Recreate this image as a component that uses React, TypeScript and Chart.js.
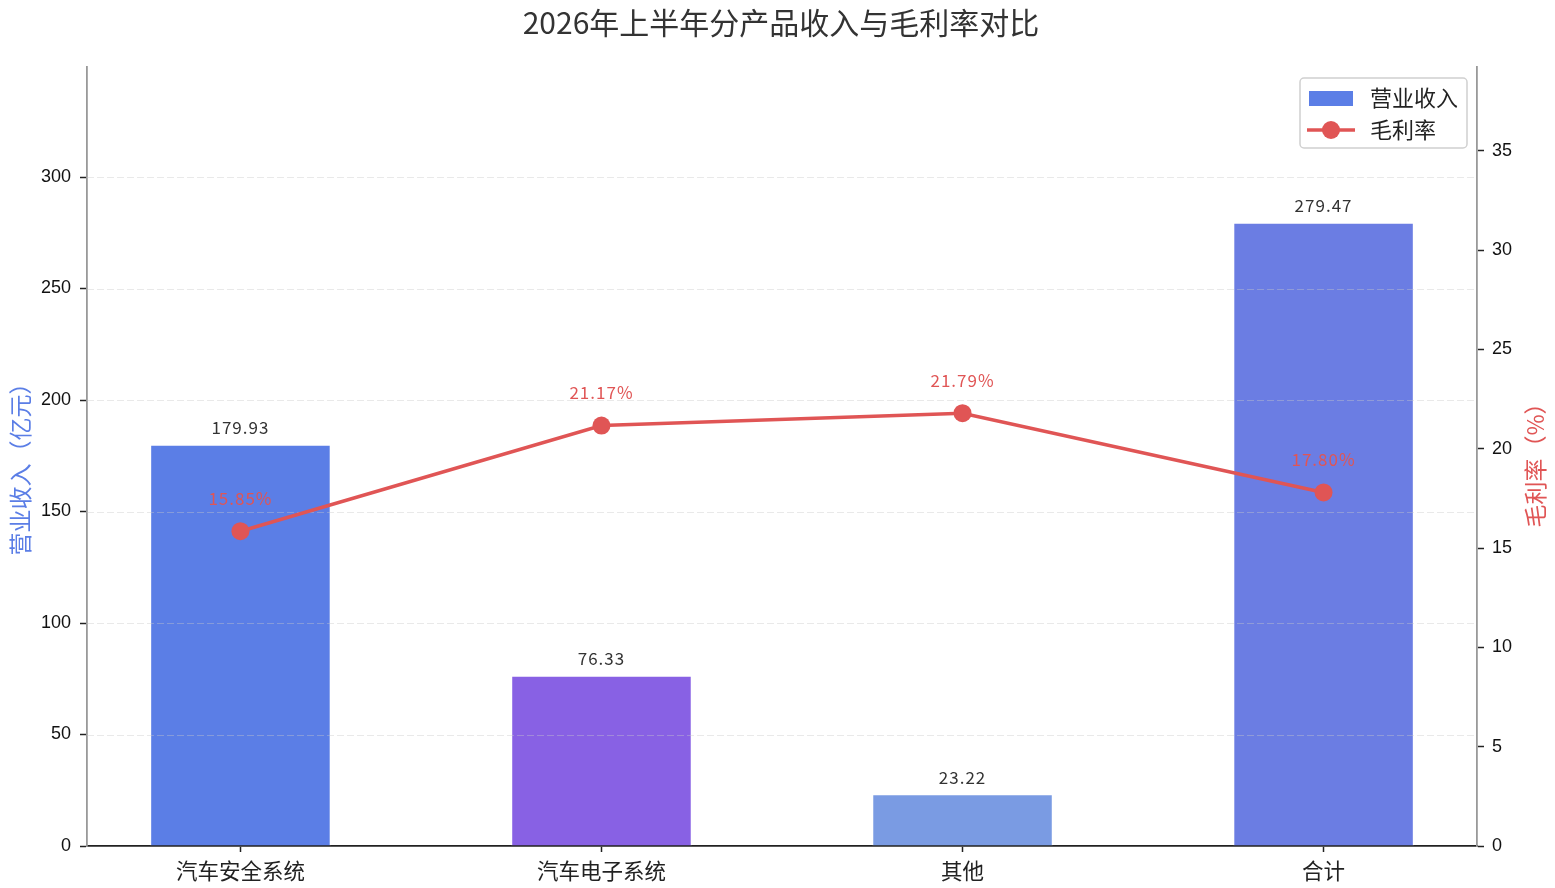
import { useEffect, useRef } from "react";
import { Chart, registerables } from "chart.js";
Chart.register(...registerables);

const categories = ["汽车安全系统", "汽车电子系统", "其他", "合计"];
const revenue = [179.93, 76.33, 23.22, 279.47];
const grossMargin = [15.85, 21.17, 21.79, 17.8];
const barColors = ["#5B7EE6", "#8861E4", "#7A9BE3", "#6B7DE3"];
const revenueTicks = [0, 50, 100, 150, 200, 250, 300];
const marginTicks = [0, 5, 10, 15, 20, 25, 30, 35];

const TITLE = "2026年上半年分产品收入与毛利率对比";
const LEFT_TITLE = "营业收入（亿元）";
const RIGHT_TITLE = "毛利率（%）";
const LEGEND_BAR = "营业收入";
const LEGEND_LINE = "毛利率";

const CJK = '"Noto Sans CJK SC", "Noto Sans", sans-serif';
const NUM = '"Liberation Sans", Arial, sans-serif';
const RED = "#E05555";
const BLUE = "#5B7EE6";

const overlay = {
  id: "overlay",
  afterDatasetDraw(chart: any, args: any) {
    if (args.index !== 0) return;
    // grid lines drawn above the bars, below the line
    const ctx = chart.ctx as CanvasRenderingContext2D;
    const area = chart.chartArea;
    const y = chart.scales.y;
    ctx.save();
    ctx.strokeStyle = "rgba(200,200,200,0.4)";
    ctx.lineWidth = 1.2;
    ctx.setLineDash([7, 3]);
    revenueTicks.forEach((t) => {
      if (t === 0) return;
      const py = Math.round(y.getPixelForValue(t)) + 0.5;
      ctx.beginPath();
      ctx.moveTo(area.left, py);
      ctx.lineTo(area.right, py);
      ctx.stroke();
    });
    ctx.restore();
  },
  afterDatasetsDraw(chart: any) {
    const ctx = chart.ctx as any;
    ctx.save();
    ctx.textAlign = "center";
    ctx.textBaseline = "middle";
    ctx.font = `17px ${CJK}`;
    ctx.letterSpacing = "1px";
    ctx.fillStyle = "#333";
    chart.getDatasetMeta(0).data.forEach((b: any, i: number) => {
      ctx.fillText(revenue[i].toFixed(2), b.x, b.y - 17);
    });
    ctx.fillStyle = RED;
    chart.getDatasetMeta(1).data.forEach((p: any, i: number) => {
      ctx.fillText(grossMargin[i].toFixed(2) + "%", p.x, p.y - 33);
    });
    ctx.restore();
  },
  afterDraw(chart: any) {
    const ctx = chart.ctx as CanvasRenderingContext2D;
    const area = chart.chartArea;
    ctx.save();
    // title
    ctx.textAlign = "center";
    ctx.textBaseline = "middle";
    ctx.fillStyle = "#333";
    ctx.font = `30px ${CJK}`;
    ctx.fillText(TITLE, 781, 23);
    // axis titles
    ctx.font = `23px ${CJK}`;
    ctx.fillStyle = BLUE;
    ctx.save();
    ctx.translate(20, (area.top + area.bottom) / 2 + 7);
    ctx.rotate(-Math.PI / 2);
    ctx.fillText(LEFT_TITLE, 0, 0);
    ctx.restore();
    ctx.fillStyle = RED;
    ctx.save();
    ctx.translate(1535, (area.top + area.bottom) / 2 + 3);
    ctx.rotate(-Math.PI / 2);
    ctx.fillText(RIGHT_TITLE, 0, 0);
    ctx.restore();
    // legend
    const lx = 1300, ly = 78, lw = 167, lh = 70;
    ctx.beginPath();
    ctx.roundRect(lx, ly, lw, lh, 4);
    ctx.fillStyle = "rgba(255,255,255,0.85)";
    ctx.fill();
    ctx.strokeStyle = "#d0d0d0";
    ctx.lineWidth = 1.5;
    ctx.stroke();
    ctx.fillStyle = BLUE;
    ctx.fillRect(1309, 91, 44, 15);
    ctx.strokeStyle = RED;
    ctx.lineWidth = 3.5;
    ctx.beginPath();
    ctx.moveTo(1307, 130);
    ctx.lineTo(1355, 130);
    ctx.stroke();
    ctx.fillStyle = RED;
    ctx.beginPath();
    ctx.arc(1331, 130, 9, 0, Math.PI * 2);
    ctx.fill();
    ctx.fillStyle = "#222";
    ctx.textAlign = "left";
    ctx.font = `22px ${CJK}`;
    ctx.fillText(LEGEND_BAR, 1370, 98);
    ctx.fillText(LEGEND_LINE, 1370, 130);
    ctx.restore();
  },
};

export default function App() {
  const ref = useRef<HTMLCanvasElement>(null);
  useEffect(() => {
    if (!ref.current) return;
    const chart = new Chart(ref.current, {
      type: "bar",
      data: {
        datasets: [
          {
            type: "bar",
            label: LEGEND_BAR,
            data: revenue.map((v, i) => ({ x: i, y: v })),
            backgroundColor: barColors,
            borderColor: "rgba(255,255,255,0.6)",
            borderWidth: 1,
            categoryPercentage: 1,
            barPercentage: 0.5,
            yAxisID: "y",
            xAxisID: "x",
            order: 2,
          } as any,
          {
            type: "line",
            label: LEGEND_LINE,
            data: grossMargin.map((v, i) => ({ x: i, y: v })),
            borderColor: RED,
            backgroundColor: RED,
            borderWidth: 3.5,
            pointRadius: 9,
            pointHoverRadius: 9,
            pointBorderWidth: 0,
            pointBackgroundColor: RED,
            yAxisID: "y1",
            xAxisID: "x",
            order: 1,
          } as any,
        ],
      },
      options: {
        responsive: false,
        animation: false,
        events: [],
        layout: { padding: { top: 67, left: 0, right: 0, bottom: 0 } },
        plugins: { legend: { display: false }, title: { display: false }, tooltip: { enabled: false } },
        scales: {
          x: {
            type: "linear",
            min: -0.425,
            max: categories.length - 1 + 0.425,
            offset: false,
            afterBuildTicks: (s: any) => {
              s.ticks = categories.map((_, i) => ({ value: i }));
            },
            afterFit: (s: any) => {
              s.height = 42;
            },
            ticks: {
              autoSkip: false,
              maxRotation: 0,
              padding: 6,
              color: "#222",
              font: { family: CJK, size: 21.5 },
              callback: (v: any) => categories[Math.round(Number(v))] ?? "",
            },
            grid: {
              offset: false,
              drawOnChartArea: false,
              drawTicks: true,
              tickLength: 6,
              tickColor: "#222",
              tickWidth: 1.5,
            },
            border: { display: true, color: "#222", width: 1.8 },
          },
          y: {
            type: "linear",
            position: "left",
            min: 0,
            max: Math.max(...revenue) * 1.25,
            afterBuildTicks: (s: any) => {
              s.ticks = revenueTicks.map((v) => ({ value: v }));
            },
            afterFit: (s: any) => {
              s.width = 87;
            },
            ticks: { padding: 9, color: "#111", font: { family: NUM, size: 18 } },
            grid: {
              drawOnChartArea: false,
              drawTicks: true,
              tickLength: 7,
              tickColor: "#222",
              tickWidth: 1.5,
            },
            border: { display: true, color: "#999", width: 1.8 },
          },
          y1: {
            type: "linear",
            position: "right",
            min: 0,
            max: Math.max(...grossMargin) * 1.8,
            afterBuildTicks: (s: any) => {
              s.ticks = marginTicks.map((v) => ({ value: v }));
            },
            afterFit: (s: any) => {
              s.width = 78;
            },
            ticks: { padding: 8, color: "#111", font: { family: NUM, size: 18 } },
            grid: { drawOnChartArea: false, drawTicks: true, tickLength: 7, tickColor: "#222", tickWidth: 1.5 },
            border: { display: true, color: "#999", width: 1.8 },
          },
        },
      } as any,
      plugins: [overlay],
    });
    return () => chart.destroy();
  }, []);
  return (
    <div style={{ position: "fixed", left: 0, top: 0, width: 1555, height: 888, background: "#fff" }}>
      <canvas ref={ref} width={1555} height={888} style={{ display: "block" }} />
    </div>
  );
}
